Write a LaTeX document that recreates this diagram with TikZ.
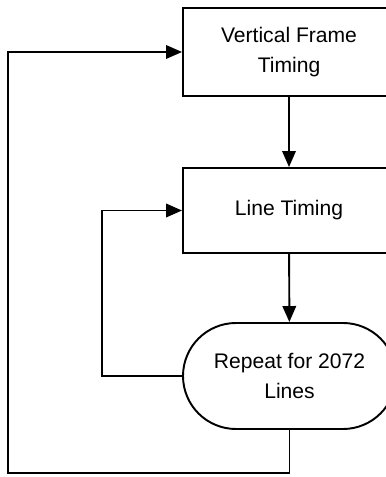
\documentclass[tikz,border=0pt]{standalone}
\usepackage{fontspec}
\setmainfont{Liberation Sans}
\usetikzlibrary{shapes.misc,arrows.meta}
\begin{document}
\begin{tikzpicture}[line width=1.1pt,
  font=\fontsize{12}{17.5}\selectfont,
  blk/.style={draw, minimum width=4.24cm, align=center, inner sep=0pt},
  rep/.style={draw, rounded rectangle, minimum width=4.26cm, minimum height=2.12cm, align=center, inner sep=0pt},
  arr/.style={-{Triangle[length=0.32cm,width=0.27cm]}}]
\path[use as bounding box, clip] (0,0) rectangle (7.72,9.54);
\node[blk, minimum height=1.76cm] (frame) at (5.78,8.5) {Vertical Frame\\Timing};
\node[blk, minimum height=1.70cm] (line) at (5.78,5.33) {Line Timing};
\node[rep] (repeat) at (5.79,2.02) {Repeat for 2072\\Lines};
\coordinate (back) at (0.16,0.08);
\draw[arr] (frame) -- (line);
\draw[arr] (line) -- (repeat);
% loop back for every line
\draw[arr] (repeat.west) -- ++(-1.6,0) |- (line.west);
% loop back for every frame
\draw[arr] (repeat.south) |- (back) |- (frame.west);
\end{tikzpicture}
\end{document}
